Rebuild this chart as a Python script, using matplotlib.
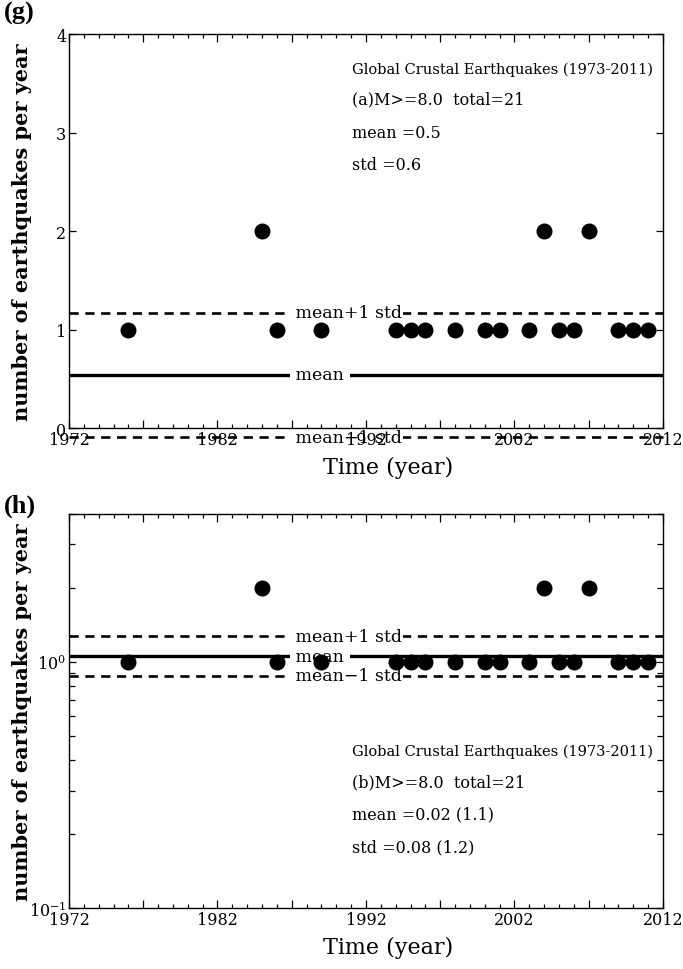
import numpy as np
import matplotlib.pyplot as plt
from matplotlib.ticker import FixedLocator, MultipleLocator, NullFormatter

plt.rcParams['font.family'] = 'DejaVu Serif'
plt.rcParams['mathtext.fontset'] = 'dejavuserif'

# yearly counts of M>=8.0 crustal events (years with no event are left out)
years = [1976, 1985, 1986, 1989, 1994, 1995, 1996, 1998, 2000, 2001,
         2003, 2004, 2005, 2006, 2007, 2009, 2010, 2011]
counts = [1, 2, 1, 1, 1, 1, 1, 1, 1, 1, 1, 2, 1, 1, 2, 1, 1, 1]
first_year, last_year = 1973, 2011
mag_cut = 8.0

all_years = np.arange(first_year, last_year + 1)
n = np.zeros(len(all_years))
for y, c in zip(years, counts):
    n[all_years == y] = c
total = int(n.sum())

mean_a, std_a = n.mean(), n.std()
logn = np.log10(np.maximum(n, 1))
mean_b, std_b = logn.mean(), logn.std()

fig = plt.figure(figsize=(6.83, 9.70), dpi=100)
ax1 = fig.add_axes([0.101, 0.5577, 0.8697, 0.4062])
ax2 = fig.add_axes([0.101, 0.0629, 0.8697, 0.4065])


def style_axes(ax):
    ax.set_xlim(1972, 2012)
    ax.xaxis.set_major_locator(FixedLocator(np.arange(1972, 2013, 5)))
    ax.set_xticklabels([str(v) if (v - 1972) % 10 == 0 else ''
                        for v in np.arange(1972, 2013, 5)])
    ax.xaxis.set_minor_locator(MultipleLocator(1))
    ax.tick_params(which='both', direction='in', top=True, right=True,
                   labelsize=11.5, width=0.9)
    ax.tick_params(axis='x', which='major', length=6, pad=2)
    ax.tick_params(axis='x', which='minor', length=3)
    ax.tick_params(axis='y', which='major', length=5, pad=2)
    ax.tick_params(axis='y', which='minor', length=4)
    for s in ax.spines.values():
        s.set_linewidth(1.0)
    ax.set_xlabel('Time (year)', fontsize=16)
    ax.xaxis.set_label_coords(0.537, -0.070)
    ax.set_ylabel('number of earthquakes per year', fontsize=15,
                  fontweight='bold')
    ax.yaxis.set_label_coords(-0.062, 0.5)


def level_line(ax, y, label, dashed):
    if dashed:
        ax.axhline(y, color='k', lw=1.9, ls=(0, (3.5, 2.5)), zorder=1.0,
                   clip_on=False)
    else:
        ax.axhline(y, color='k', lw=2.4, zorder=1.0)
    ax.text(1986.9, y, label, ha='left', va='center', fontsize=12.5,
            bbox=dict(facecolor='white', edgecolor='none', pad=0.5),
            zorder=1.2, clip_on=False)


# linear counts
style_axes(ax1)
ax1.set_ylim(0, 4)
ax1.set_yticks([0, 1, 2, 3, 4])
level_line(ax1, mean_a, ' mean ', False)
level_line(ax1, mean_a + std_a, ' mean+1 std', True)
level_line(ax1, mean_a - std_a, ' mean\u22121 std', True)
ax1.plot(years, counts, 'o', color='k', ms=10.5, zorder=4, clip_on=False)

ax1.text(0.476, 0.911, 'Global Crustal Earthquakes (%d-%d)'
         % (first_year, last_year), transform=ax1.transAxes,
         fontsize=10.5, va='center')
ax1.text(0.476, 0.835, '(a)M>=%.1f  total=%d' % (mag_cut, total),
         transform=ax1.transAxes, fontsize=11.5, va='center')
ax1.text(0.476, 0.751, 'mean =%.1f' % mean_a,
         transform=ax1.transAxes, fontsize=11.5, va='center')
ax1.text(0.476, 0.670, 'std =%.1f' % std_a,
         transform=ax1.transAxes, fontsize=11.5, va='center')

# log counts
style_axes(ax2)
ax2.set_yscale('log')
ax2.set_ylim(0.1, 4)
ax2.yaxis.set_minor_formatter(NullFormatter())
level_line(ax2, 10 ** mean_b, ' mean ', False)
level_line(ax2, 10 ** (mean_b + std_b), ' mean+1 std', True)
level_line(ax2, 10 ** (mean_b - std_b), ' mean\u22121 std', True)
ax2.plot(years, counts, 'o', color='k', ms=10.5, zorder=4, clip_on=False)

ax2.text(0.476, 0.398, 'Global Crustal Earthquakes (%d-%d)'
         % (first_year, last_year), transform=ax2.transAxes,
         fontsize=10.5, va='center')
ax2.text(0.476, 0.320, '(b)M>=%.1f  total=%d' % (mag_cut, total),
         transform=ax2.transAxes, fontsize=11.5, va='center')
ax2.text(0.476, 0.239, 'mean =%.2f (%.1f)' % (mean_b, 10 ** mean_b),
         transform=ax2.transAxes, fontsize=11.5, va='center')
ax2.text(0.476, 0.155, 'std =%.2f (%.1f)' % (std_b, 10 ** std_b),
         transform=ax2.transAxes, fontsize=11.5, va='center')

fig.text(0.006, 0.998, '(g)', fontsize=19, fontweight='bold',
         family='Liberation Serif', va='top')
fig.text(0.006, 0.490, '(h)', fontsize=19, fontweight='bold',
         family='Liberation Serif', va='top')

fig.savefig('out.png', dpi=100)
